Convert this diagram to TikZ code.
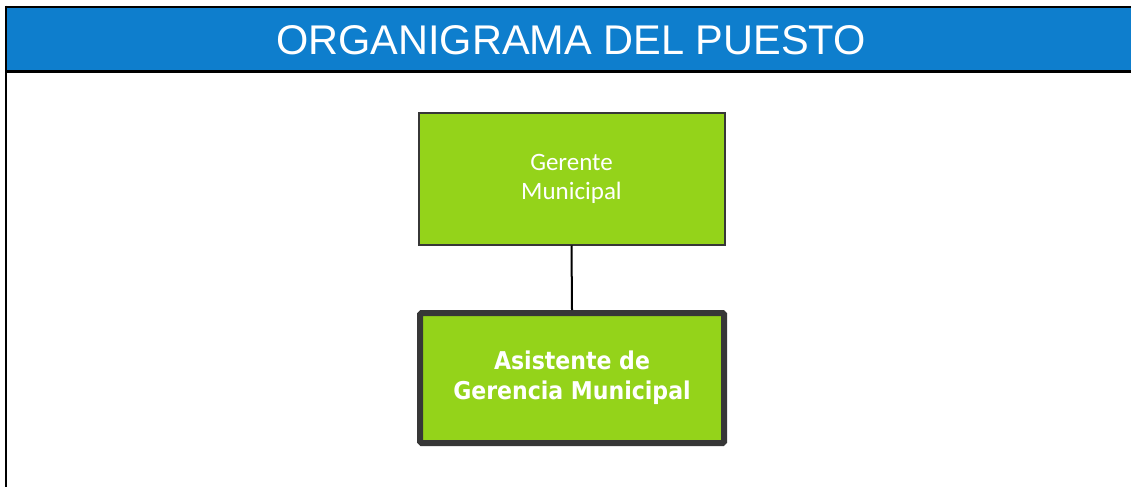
\documentclass[tikz,border=0pt]{standalone}
\usepackage{fontspec}
\setmainfont{Liberation Sans}
\newfontfamily\headfont{Liberation Sans}
\newfontfamily\lightfont{Carlito}
\newfontfamily\boldfont{DejaVu Sans Condensed}
\definecolor{hdrblue}{RGB}{14,126,205}
\definecolor{boxgreen}{RGB}{148,211,26}
\definecolor{boxgray}{RGB}{55,55,55}
\begin{document}
\begin{tikzpicture}[x=1pt,y=-1pt,
  headtext/.style={text=white,font=\headfont\fontsize{41.5}{46}\selectfont},
  topbox/.style={draw=boxgray,line width=2pt,fill=boxgreen,inner sep=0pt,
    text=white,align=center,font=\lightfont\fontsize{25}{29}\selectfont},
  mainbox/.style={draw=boxgray,line width=6pt,fill=boxgreen,inner sep=0pt,rounded corners=1.5pt,
    text=white,align=center,font=\boldfont\bfseries\fontsize{24.5}{30}\selectfont},
  link/.style={draw=black,line width=2pt}]
\useasboundingbox (0,0) rectangle (1131,487);
\fill[white] (0,0) rectangle (1131,487);
\fill[hdrblue] (6,7) rectangle (1131,71.5);
\draw[black,line width=2.5pt] (6,7) -- (1131,7);
\draw[black,line width=2.5pt] (6,71.5) -- (1131,71.5);
\draw[black,line width=2.5pt] (6,5.75) -- (6,487);
\node[headtext] (hdr) at (571,40) {ORGANIGRAMA DEL PUESTO};
\node[topbox,minimum width=306pt,minimum height=132pt] (gm) at (571.5,178.5) {Gerente\\Municipal};
\node[mainbox,minimum width=304pt,minimum height=130pt] (agm) at (572,378) {Asistente de\\Gerencia Municipal};
\draw[link] (gm.south) -- (agm.north);
\end{tikzpicture}
\end{document}
